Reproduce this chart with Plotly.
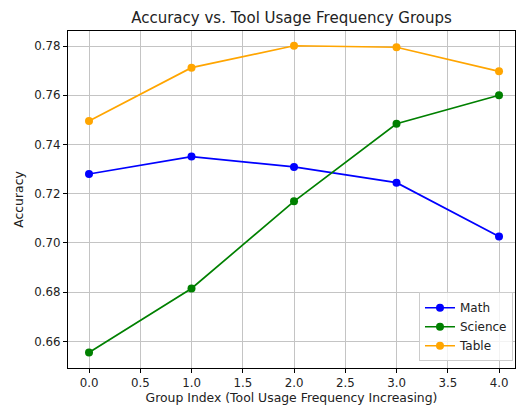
import plotly.graph_objects as go

groups = [0, 1, 2, 3, 4]
math_acc = [0.7280, 0.7351, 0.7309, 0.7245, 0.7026]
science_acc = [0.6555, 0.6815, 0.7169, 0.7484, 0.7600]
table_acc = [0.7495, 0.7712, 0.7801, 0.7795, 0.7697]
x_ticks = [0.0, 0.5, 1.0, 1.5, 2.0, 2.5, 3.0, 3.5, 4.0]
y_ticks = [0.66, 0.68, 0.70, 0.72, 0.74, 0.76, 0.78]

series = [("Math", math_acc, "blue"), ("Science", science_acc, "green"), ("Table", table_acc, "orange")]

fig = go.Figure()
for name, vals, col in series:
    fig.add_trace(go.Scatter(x=groups, y=vals, name=name, mode="lines+markers",
                             line=dict(color=col, width=1.7),
                             marker=dict(color=col, size=8)))

font = "DejaVu Sans"
axis_common = dict(showline=True, linecolor="black", linewidth=1, mirror=True,
                   showgrid=True, gridcolor="#c4c4c4", gridwidth=1,
                   ticks="outside", ticklen=4, tickcolor="black",
                   tickfont=dict(family=font, size=11.8, color="#222"),
                   zeroline=False)

fig.update_layout(
    width=516, height=408,
    margin=dict(l=68, r=1, t=31, b=40),
    paper_bgcolor="white", plot_bgcolor="white",
    title=dict(text="Accuracy vs. Tool Usage Frequency Groups", x=(68+515)/2/516, xanchor="center",
               y=1-18/408, yanchor="middle", font=dict(family=font, size=15, color="#222")),
    xaxis=dict(range=[-0.205, 4.156], tickvals=x_ticks, ticktext=[f"{v:.1f}" for v in x_ticks],
               title=dict(text="Group Index (Tool Usage Frequency Increasing)", standoff=4,
                          font=dict(family=font, size=12.4, color="#222")), **axis_common),
    yaxis=dict(range=[0.6492, 0.7861], tickvals=y_ticks, ticktext=[f"{v:.2f}" for v in y_ticks],
               title=dict(text="Accuracy", standoff=8, font=dict(family=font, size=12.4, color="#222")),
               **axis_common),
    legend=dict(x=0.9955, xanchor="right", y=0.02, yanchor="bottom",
                bgcolor="rgba(255,255,255,0.8)", bordercolor="#cccccc", borderwidth=1,
                font=dict(family=font, size=12, color="#222"), tracegroupgap=0),
    showlegend=True,
)

fig.write_html("out.html", config={"displayModeBar": False},
               post_script="document.body.style.margin='0';document.body.style.overflow='hidden';")
